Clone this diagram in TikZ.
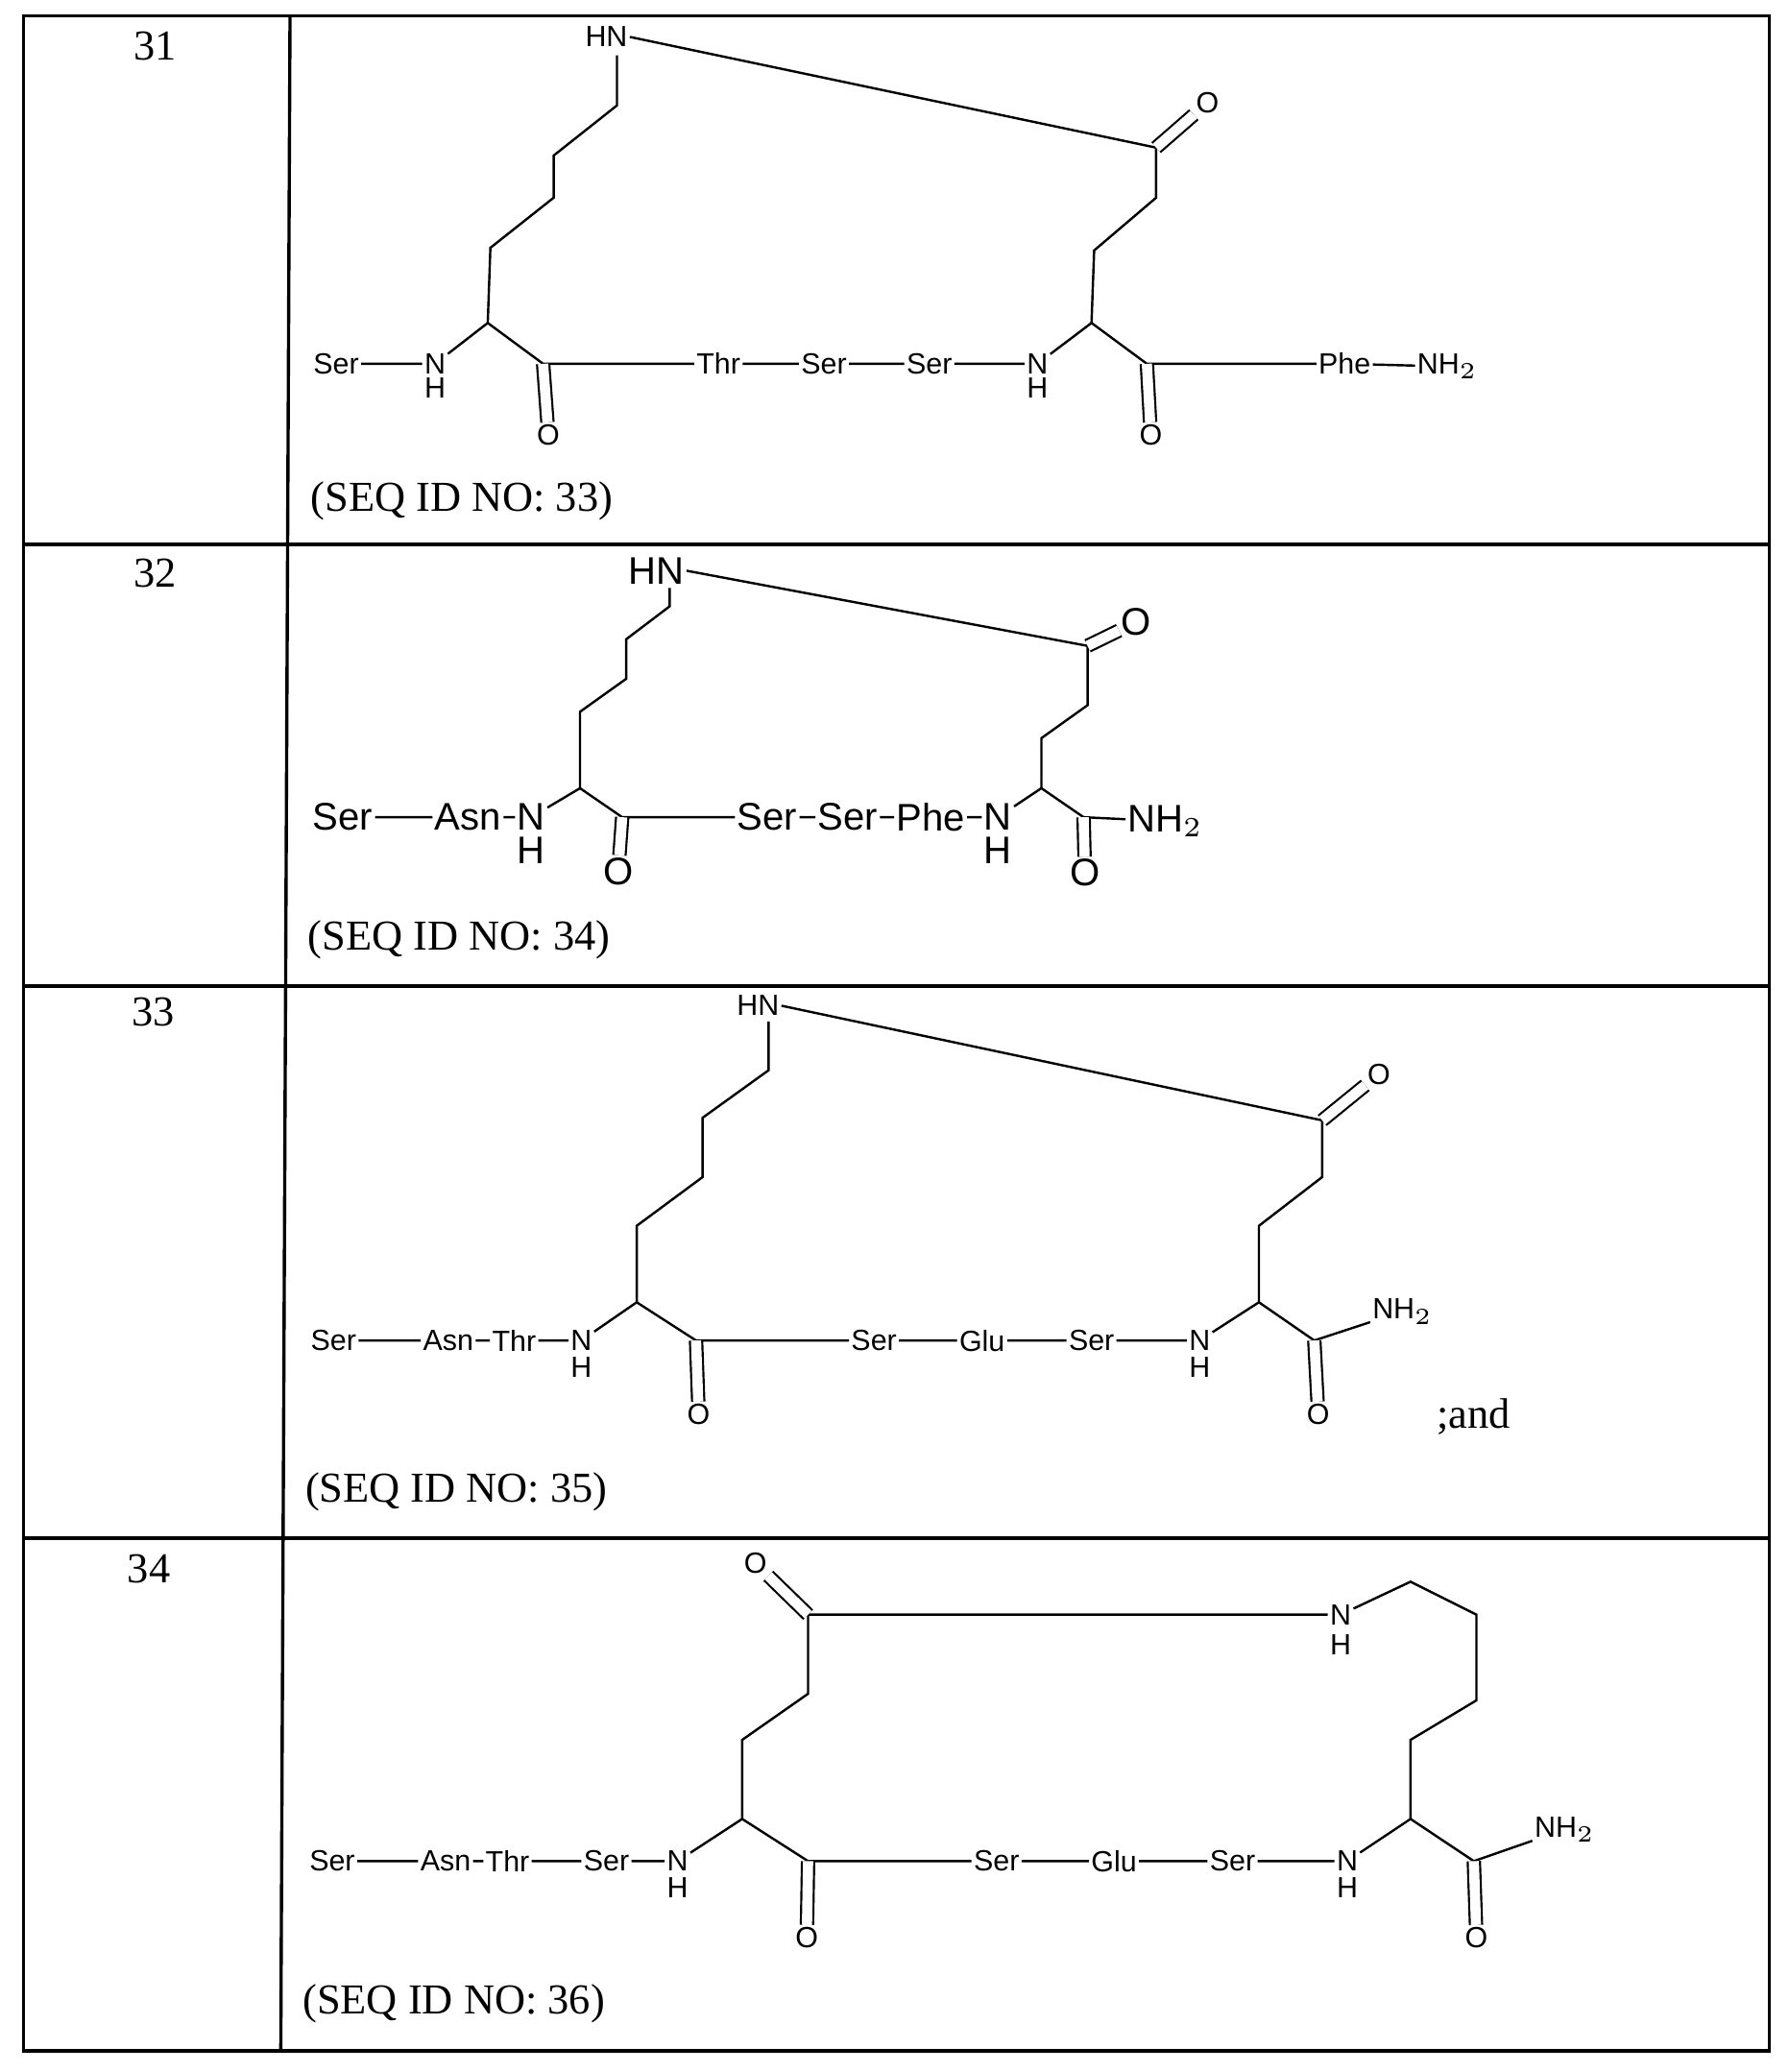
\documentclass[tikz,border=0pt]{standalone}
\usepackage{fontspec}
\setmainfont{Liberation Serif}
\setsansfont{Liberation Sans}
\begin{document}
\begin{tikzpicture}[x=0.01cm,y=-0.01cm,
 at1/.style={font=\sffamily\fontsize{6.3}{7}\selectfont,inner sep=0.3pt},
 at2/.style={font=\sffamily\fontsize{8.3}{9}\selectfont,inner sep=0.3pt},
 lbl/.style={font=\fontsize{9.2}{11}\selectfont,inner sep=0pt},
 bd/.style={line width=0.5pt},
 db/.style={double,double distance=2.2pt,line width=0.45pt}]
\useasboundingbox (0,0) rectangle (1357,1572);
% table
\draw[line width=0.7pt] (18,12) rectangle (1342,1556);
\draw[line width=0.7pt] (220,12) -- (213,1556);
\foreach \y in {413,748,1167} \draw[line width=0.7pt] (18,\y) -- (1342,\y);
\node[lbl] (n31) at (118,35) {31};
\node[lbl] (n32) at (118,435) {32};
\node[lbl] (n33) at (116,768) {33};
\node[lbl] (n34) at (113,1190) {34};
\node[lbl,anchor=west] (s33) at (235,380) {(SEQ ID NO: 33)};
\node[lbl,anchor=west] (s34) at (233,713) {(SEQ ID NO: 34)};
\node[lbl,anchor=west] (s35) at (231,1132) {(SEQ ID NO: 35)};
\node[lbl,anchor=west] (s36) at (229,1520) {(SEQ ID NO: 36)};
\node[lbl] (and) at (1118,1075) {;and};

% ===== row 1
\begin{scope}[every node/.style={at1}]
\node (a1) at (255,276) {Ser};
\node (a2) at (330,276) {N}; \node (a2h) at (330,294) {H};
\coordinate (a3) at (370,245); \coordinate (a4) at (412,276);
\node (a5) at (416,330) {O};
\node (a6) at (545,276) {Thr}; \node (a7) at (625,276) {Ser}; \node (a8) at (705,276) {Ser};
\node (a9) at (787,276) {N}; \node (a9h) at (787,294) {H};
\coordinate (a10) at (828,245); \coordinate (a11) at (870,276);
\node (a12) at (873,330) {O};
\node (a13) at (1020,276) {Phe}; \node (a14) at (1098,278) {NH$_2$};
\coordinate (k1) at (372,188); \coordinate (k2) at (420,150); \coordinate (k3) at (420,118);
\coordinate (k4) at (468,80); \coordinate (k5) at (468,42);
\node (a15) at (460,28) {HN};
\coordinate (e1) at (830,190); \coordinate (e2) at (877,150); \coordinate (e3) at (877,112);
\node (a16) at (916,78) {O};
\end{scope}
\draw[bd] (a1)--(a2) (a2)--(a3)--(a4)--(a6)--(a7)--(a8)--(a9) (a9)--(a10)--(a11)--(a13)--(a14);
\draw[db] (a4)--(a5); \draw[db] (a11)--(a12);
\draw[bd] (a3)--(k1)--(k2)--(k3)--(k4)--(k5);
\draw[bd] (a15.east)--(e3); \draw[bd] (a10)--(e1)--(e2)--(e3); \draw[db] (e3)--(a16);

% ===== row 2
\begin{scope}[every node/.style={at2}]
\node (b1) at (260,620) {Ser}; \node (b2) at (355,620) {Asn};
\node (b3) at (403,620) {N}; \node (b3h) at (403,645) {H};
\coordinate (b4) at (440,598); \coordinate (b5) at (472,620);
\node (b6) at (469,661) {O};
\node (b7) at (582,620) {Ser}; \node (b8) at (643,620) {Ser}; \node (b9) at (706,620) {Phe};
\node (b10) at (757,620) {N}; \node (b10h) at (757,645) {H};
\coordinate (b11) at (790,598); \coordinate (b12) at (822,620);
\node (b13) at (823,662) {O}; \node (b14) at (884,623) {NH$_2$};
\coordinate (m1) at (440,540); \coordinate (m2) at (475,515); \coordinate (m3) at (475,485);
\coordinate (m4) at (508,460); \coordinate (m5) at (508,446); \node (b15) at (498,433) {HN};
\coordinate (f1) at (790,560); \coordinate (f2) at (825,535); \coordinate (f3) at (825,490);
\node (b16) at (862,472) {O};
\end{scope}
\draw[bd] (b1)--(b2)--(b3) (b3)--(b4)--(b5)--(b7)--(b8)--(b9)--(b10) (b10)--(b11)--(b12)--(b14);
\draw[db] (b5)--(b6); \draw[db] (b12)--(b13);
\draw[bd] (b4)--(m1)--(m2)--(m3)--(m4)--(m5);
\draw[bd] (b15.east)--(f3); \draw[bd] (b11)--(f1)--(f2)--(f3); \draw[db] (f3)--(b16);

% ===== row 3
\begin{scope}[every node/.style={at1}]
\node (c1) at (253,1017) {Ser}; \node (c2) at (340,1017) {Asn}; \node (c3) at (390,1017) {Thr};
\node (c4) at (441,1017) {N}; \node (c4h) at (441,1037) {H};
\coordinate (c5) at (483,988); \coordinate (c6) at (528,1017);
\node (c7) at (530,1073) {O};
\node (c8) at (663,1017) {Ser}; \node (c9) at (745,1017) {Glu}; \node (c10) at (828,1017) {Ser};
\node (c11) at (910,1017) {N}; \node (c11h) at (910,1037) {H};
\coordinate (c12) at (955,988); \coordinate (c13) at (997,1017);
\node (c14) at (1000,1073) {O}; \node (c15) at (1064,995) {NH$_2$};
\coordinate (p1) at (483,930); \coordinate (p2) at (533,893); \coordinate (p3) at (533,848);
\coordinate (p4) at (583,812); \coordinate (p5) at (583,775); \node (c16) at (575,763) {HN};
\coordinate (q1) at (955,930); \coordinate (q2) at (1003,893); \coordinate (q3) at (1003,850);
\node (c17) at (1046,815) {O};
\end{scope}
\draw[bd] (c1)--(c2)--(c3)--(c4) (c4)--(c5)--(c6)--(c8)--(c9)--(c10)--(c11) (c11)--(c12)--(c13)--(c15);
\draw[db] (c6)--(c7); \draw[db] (c13)--(c14);
\draw[bd] (c5)--(p1)--(p2)--(p3)--(p4)--(p5);
\draw[bd] (c16.east)--(q3); \draw[bd] (c12)--(q1)--(q2)--(q3); \draw[db] (q3)--(c17);

% ===== row 4
\begin{scope}[every node/.style={at1}]
\node (d1) at (252,1412) {Ser}; \node (d2) at (338,1412) {Asn}; \node (d3) at (385,1412) {Thr};
\node (d4) at (460,1412) {Ser};
\node (d5) at (514,1412) {N}; \node (d5h) at (514,1432) {H};
\coordinate (d6) at (563,1380); \coordinate (d7) at (613,1412);
\node (d8) at (612,1470) {O};
\node (d9) at (756,1412) {Ser}; \node (d10) at (845,1412) {Glu}; \node (d11) at (935,1412) {Ser};
\node (d12) at (1022,1412) {N}; \node (d12h) at (1022,1432) {H};
\coordinate (d13) at (1070,1380); \coordinate (d14) at (1118,1412);
\node (d15) at (1120,1470) {O}; \node (d16) at (1187,1388) {NH$_2$};
\coordinate (r1) at (563,1320); \coordinate (r2) at (613,1285); \coordinate (r3) at (613,1225);
\node (d17) at (573,1186) {O};
\node (d18) at (1017,1225) {N}; \node (d18h) at (1017,1248) {H};
\coordinate (s1) at (1070,1200); \coordinate (s2) at (1120,1225); \coordinate (s3) at (1120,1290);
\coordinate (s4) at (1070,1320);
\end{scope}
\draw[bd] (d1)--(d2)--(d3)--(d4)--(d5) (d5)--(d6)--(d7)--(d9)--(d10)--(d11)--(d12) (d12)--(d13)--(d14)--(d16);
\draw[db] (d7)--(d8); \draw[db] (d14)--(d15);
\draw[bd] (d6)--(r1)--(r2)--(r3)--(d18); \draw[db] (r3)--(d17);
\draw[bd] (d18)--(s1)--(s2)--(s3)--(s4)--(d13);
\end{tikzpicture}
\end{document}
